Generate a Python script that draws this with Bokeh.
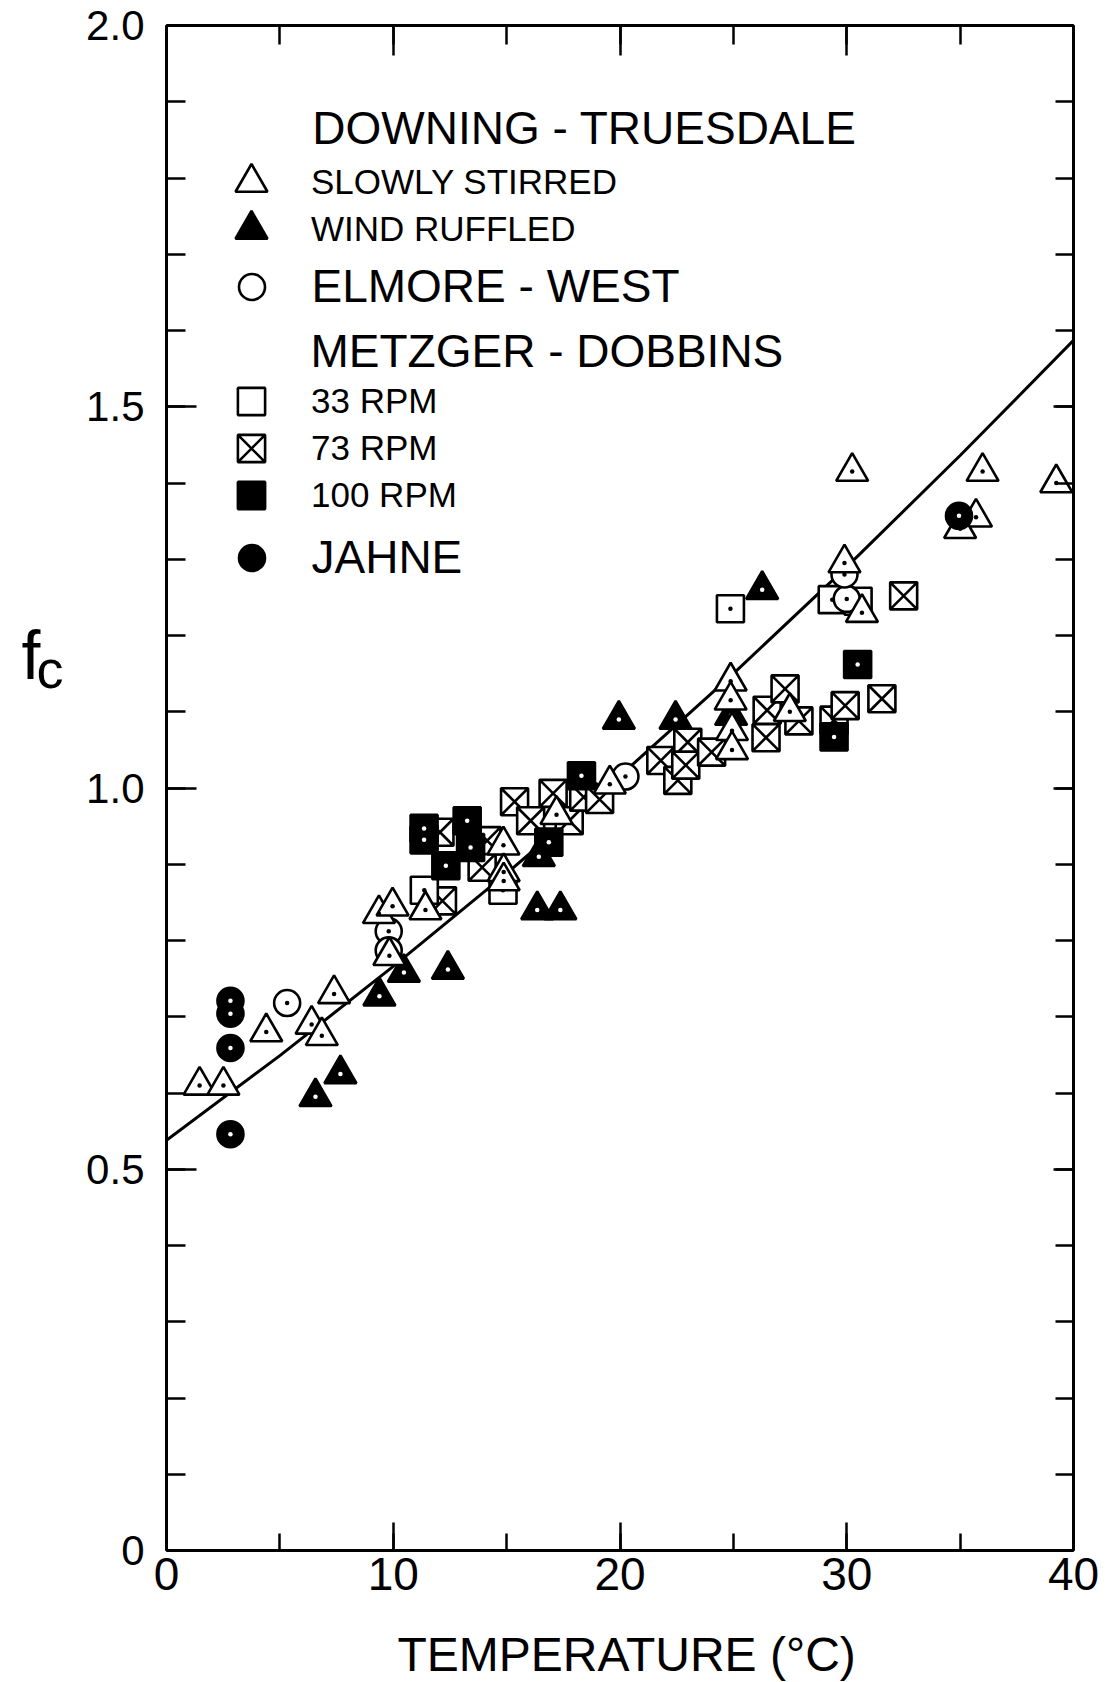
from bokeh.plotting import figure
from bokeh.layouts import row, column
from bokeh.models import (Range1d, LinearAxis, SingleIntervalTicker, Label, Legend, LegendItem,
                          CustomJSTickFormatter)
from bokeh.core.properties import value
from bokeh.embed import file_html
from bokeh.resources import INLINE

# ---------------- data ----------------
# Downing - Truesdale, slowly stirred (open triangles)
ss_temp = [1.46, 2.51, 4.4, 6.4, 6.85, 7.39, 9.37, 9.97, 9.83, 11.42, 14.86, 14.87, 14.87,
           17.2, 19.55, 24.88, 24.88, 24.94, 24.94, 27.49, 29.9, 30.67, 30.24, 35.99,
           39.24, 35.7, 35.0]
ss_fc = [0.61, 0.61, 0.68, 0.69, 0.675, 0.73, 0.835, 0.845, 0.78, 0.84, 0.925, 0.89, 0.878,
         0.965, 1.005, 1.14, 1.115, 1.075, 1.05, 1.10, 1.295, 1.23, 1.415, 1.415,
         1.40, 1.355, 1.34]
# Downing - Truesdale, wind ruffled (filled triangles)
wr_temp = [6.57, 7.67, 9.39, 10.47, 12.41, 16.35, 17.37, 16.42, 19.95, 22.45, 26.27, 24.9]
wr_fc = [0.595, 0.625, 0.727, 0.758, 0.762, 0.84, 0.84, 0.91, 1.09, 1.09, 1.26, 1.095]
# Elmore - West (open circles)
ew_temp = [5.32, 9.8, 9.8, 20.24, 30.0, 29.9]
ew_fc = [0.718, 0.812, 0.787, 1.015, 1.248, 1.28]
# Metzger - Dobbins 33 RPM (open squares)
md33_temp = [11.37, 14.84, 24.87, 29.36, 30.5]
md33_fc = [0.866, 0.866, 1.235, 1.247, 1.245]
# Metzger - Dobbins 73 RPM (crossed squares)
md73_temp = [12.17, 12.06, 13.92, 14.14, 15.35, 16.06, 17.05, 17.76, 18.4, 19.1, 21.8, 22.55,
             22.99, 22.9, 24.04, 26.44, 26.49, 27.28, 27.89, 29.44, 29.93, 31.55, 32.51]
md73_fc = [0.852, 0.942, 0.896, 0.931, 0.982, 0.957, 0.993, 0.957, 0.988, 0.985, 1.036, 1.01,
           1.06, 1.03, 1.047, 1.066, 1.102, 1.13, 1.088, 1.089, 1.108, 1.117, 1.252]
# Metzger - Dobbins 100 RPM (filled squares)
md100_temp = [11.36, 11.36, 13.26, 12.32, 13.41, 16.86, 18.3, 30.48, 29.44]
md100_fc = [0.947, 0.932, 0.957, 0.898, 0.922, 0.929, 1.016, 1.162, 1.067]
# Jahne (filled circles)
ja_temp = [2.82, 2.82, 2.82, 2.82, 34.95]
ja_fc = [0.721, 0.704, 0.659, 0.546, 1.357]
# fitted curve
fit_temp = [0, 5, 10, 15, 20, 25, 30, 35, 40]
fit_fc = [0.538, 0.649, 0.766, 0.888, 1.016, 1.150, 1.290, 1.436, 1.587]

# axis ticks / labels
x_tick_interval = 10
y_tick_interval = 0.5
y_tick_labels = {0: "0", 0.5: "0.5", 1.0: "1.0", 1.5: "1.5", 2.0: "2.0"}
x_title = "TEMPERATURE  (°C)"
y_title_main = "f"
y_title_sub = "c"

FONT = "Liberation Sans"
TOTAL_W, TOTAL_H = 1119, 1682
STRIP_W = 72            # left strip holding the y title
BOTTOM_H = 57           # bottom strip holding the x title
MAIN_H = TOTAL_H - BOTTOM_H

# ---------------- main plot ----------------
p = figure(width=TOTAL_W - STRIP_W, height=MAIN_H, output_backend="svg", toolbar_location=None,
           x_range=Range1d(0, 40), y_range=Range1d(0, 2.0),
           x_axis_location=None, y_axis_location=None,
           min_border_left=94, min_border_right=46, min_border_top=25, min_border_bottom=75,
           background_fill_color="white", border_fill_color="white")
p.outline_line_color = None
p.xgrid.visible = False
p.ygrid.visible = False

xt = SingleIntervalTicker(interval=x_tick_interval, num_minor_ticks=2)
yt = SingleIntervalTicker(interval=y_tick_interval, num_minor_ticks=5)
blank = CustomJSTickFormatter(code="return ''")


def style_axis(ax, major_in, minor_in):
    ax.axis_line_width = 3
    ax.axis_line_color = "black"
    ax.major_tick_in = major_in
    ax.major_tick_out = 0
    ax.minor_tick_in = minor_in
    ax.minor_tick_out = 0
    ax.major_tick_line_width = 2.5
    ax.minor_tick_line_width = 2.5
    ax.major_tick_line_color = "black"
    ax.minor_tick_line_color = "black"
    ax.major_label_text_color = "black"


bottom = LinearAxis(ticker=xt)
style_axis(bottom, 28, 17)
bottom.major_label_text_font = FONT
bottom.major_label_text_font_size = "46px"
bottom.major_label_standoff = 7
p.add_layout(bottom, "below")

left = LinearAxis(ticker=yt)
style_axis(left, 30, 19)
left.major_label_text_font = FONT
left.major_label_text_font_size = "42px"
left.major_label_standoff = 22
left.major_label_overrides = y_tick_labels
p.add_layout(left, "left")

top = LinearAxis(ticker=xt, formatter=blank)
style_axis(top, 30, 19)
top.major_label_standoff = 0
p.add_layout(top, "above")

right = LinearAxis(ticker=yt, formatter=blank)
style_axis(right, 20, 18)
right.major_label_standoff = 0
p.add_layout(right, "right")

# fitted curve
p.line(fit_temp, fit_fc, line_width=3, line_color="black")

SIZES = {"triangle": 32, "square": 27, "square_x": 27, "circle": 26}


def series(xs, ys, marker, fill, dot):
    r = p.scatter(xs, ys, marker=marker, size=SIZES[marker], fill_color=fill,
                  line_color="black", line_width=2.6)
    if dot is not None:
        p.scatter(xs, ys, marker="circle", size=4.5, fill_color=dot, line_color=None)
    return r


r73 = series(md73_temp, md73_fc, "square_x", "white", None)
r33 = series(md33_temp, md33_fc, "square", "white", "black")
r100 = series(md100_temp, md100_fc, "square", "black", "white")
rew = series(ew_temp, ew_fc, "circle", "white", "black")
rwr = series(wr_temp, wr_fc, "triangle", "black", "white")
rss = series(ss_temp, ss_fc, "triangle", "white", "black")
rja = series(ja_temp, ja_fc, "circle", "black", "white")

# ---------------- legend: one single-entry Legend per row ----------------
FRAME_LEFT = 94          # frame left edge inside this figure (px)
FRAME_BOTTOM = 1550      # frame bottom (px from top)
KEY_X = 251 - STRIP_W    # key centre, px from this figure's left edge
TEXT_X = 311 - STRIP_W   # label left edge

legend_rows = [
    ("SLOWLY STIRRED", rss, "triangle", 182, "35px"),
    ("WIND RUFFLED", rwr, "triangle", 229, "35px"),
    ("ELMORE - WEST", rew, "circle", 286, "46px"),
    ("33 RPM", r33, "square", 401, "35px"),
    ("73 RPM", r73, "square_x", 448, "35px"),
    ("100 RPM", r100, "square", 495, "35px"),
    ("JAHNE", rja, "circle", 557, "46px"),
]
for label, rend, mk, cy, fs in legend_rows:
    box = int(round(SIZES[mk] / 0.4))
    x0 = KEY_X - box / 2
    lg = Legend(items=[LegendItem(label=label, renderers=[rend])],
                location=(x0 - FRAME_LEFT, FRAME_BOTTOM - (cy + box / 2)),
                glyph_width=box, glyph_height=box, spacing=0,
                label_standoff=int(round(TEXT_X - (x0 + box))), padding=0, margin=0,
                border_line_color=None, background_fill_alpha=0,
                label_text_font=FONT, label_text_font_size=fs, label_text_color="black")
    p.add_layout(lg)

# group headings
for txt, x, y in [("DOWNING - TRUESDALE", 6.43, 1.865), ("METZGER - DOBBINS", 6.35, 1.5725)]:
    p.add_layout(Label(x=x, y=y, text=txt, text_font=FONT, text_font_size="46px",
                       text_color="black", text_baseline="middle", text_align="left"))

# ---------------- left strip carrying the y title f_c ----------------
pl = figure(width=STRIP_W, height=MAIN_H, output_backend="svg", toolbar_location=None,
            x_range=Range1d(0, STRIP_W), y_range=Range1d(0, 2.0),
            x_axis_location=None, y_axis_location=None,
            min_border_left=0, min_border_right=0, min_border_top=25, min_border_bottom=75,
            background_fill_color="white", border_fill_color="white")
pl.outline_line_color = None
pl.xgrid.visible = False
pl.ygrid.visible = False
pl.text(x=[21], y=[1.1738], text=[y_title_main], text_font=value(FONT), text_font_size="68px",
        text_color="black", text_baseline="middle", text_align="left")
pl.text(x=[36], y=[1.1563], text=[y_title_sub], text_font=value(FONT), text_font_size="54px",
        text_color="black", text_baseline="middle", text_align="left")

# ---------------- bottom strip carrying the x title ----------------
pb = figure(width=TOTAL_W, height=BOTTOM_H, output_backend="svg", toolbar_location=None,
            x_range=Range1d(0, TOTAL_W), y_range=Range1d(0, BOTTOM_H),
            x_axis_location=None, y_axis_location=None,
            min_border_left=0, min_border_right=0, min_border_top=0, min_border_bottom=0,
            background_fill_color="white", border_fill_color="white")
pb.outline_line_color = None
pb.xgrid.visible = False
pb.ygrid.visible = False
pb.text(x=[397], y=[BOTTOM_H - 29], text=[x_title], text_font=value(FONT), text_font_size="48px",
        text_color="black", text_baseline="middle", text_align="left")

layout = column(row(pl, p, spacing=0), pb, spacing=0)
open("out.html", "w").write(file_html(layout, INLINE))
